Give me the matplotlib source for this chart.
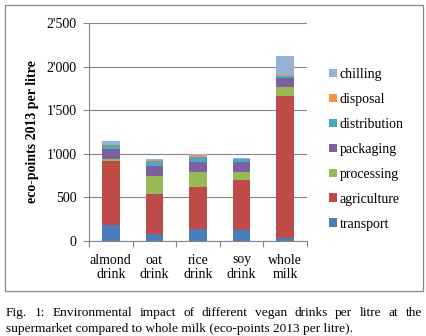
import matplotlib
matplotlib.use("Agg")
import matplotlib.pyplot as plt
import numpy as np
from matplotlib.patches import Rectangle
from matplotlib.ticker import FuncFormatter, FixedLocator

plt.rcParams["font.family"] = ["Liberation Serif", "DejaVu Serif"]

drinks = ["almond\ndrink", "oat\ndrink", "rice\ndrink", "soy\ndrink", "whole\nmilk"]

# eco-points 2013 per litre, per life-cycle stage
transport = [180, 85, 135, 125, 40]
agriculture = [740, 458, 488, 575, 1623]
processing = [25, 206, 172, 90, 107]
packaging = [115, 115, 111, 115, 96]
distribution = [45, 53, 61, 35, 30]
disposal = [12, 10, 15, 5, 10]
chilling = [28, 10, 12, 7, 220]

stages = [
    ("transport", transport, "#4a7ebb"),
    ("agriculture", agriculture, "#be4b48"),
    ("processing", processing, "#98b954"),
    ("packaging", packaging, "#7d60a0"),
    ("distribution", distribution, "#46aac5"),
    ("disposal", disposal, "#f69240"),
    ("chilling", chilling, "#95b3d7"),
]

fig = plt.figure(figsize=(4.26, 3.36), dpi=100)
ax = fig.add_axes([89 / 426, 1 - 241 / 336, 218 / 426, 218 / 336])

x = np.arange(len(drinks))
bottom = np.zeros(len(drinks))
handles = []
for name, vals, col in stages:
    b = ax.bar(x, vals, width=0.4, bottom=bottom, color=col, label=name,
               edgecolor="none", zorder=3)
    handles.append(b)
    bottom += np.array(vals)

ax.set_xlim(-0.5, len(drinks) - 0.5)
ax.set_ylim(0, 2500)
ax.set_yticks(np.arange(0, 2501, 500))
ax.yaxis.set_major_formatter(FuncFormatter(lambda v, p: f"{int(v):,}".replace(",", "'")))
ax.set_xticks(x)
ax.set_xticklabels(drinks, fontsize=10, linespacing=1.15)
ax.xaxis.set_minor_locator(FixedLocator(np.arange(-0.5, len(drinks), 1.0)))
ax.tick_params(axis="x", which="major", length=0, pad=9)
ax.tick_params(axis="x", which="minor", length=4, color="#868686", width=0.8)
ax.tick_params(axis="y", length=4, color="#868686", width=0.8, labelsize=10, pad=5)

ax.grid(axis="y", color="#868686", linewidth=0.8, zorder=0)
for s in ("top", "right"):
    ax.spines[s].set_visible(False)
for s in ("left", "bottom"):
    ax.spines[s].set_color("#868686")
    ax.spines[s].set_linewidth(0.8)

ax.set_ylabel("eco-points 2013 per litre", fontsize=10, fontweight="bold", labelpad=5)

ax.legend(handles[::-1], [h.get_label() for h in handles[::-1]],
          loc="center left", bbox_to_anchor=(0.772, 0.556),
          bbox_transform=fig.transFigure, frameon=False, fontsize=10,
          handlelength=0.55, handleheight=0.55, handletextpad=0.25,
          labelspacing=0.86, borderpad=0, borderaxespad=0)

# chart frame
fig.patches.append(Rectangle((5 / 426, 1 - 291 / 336), 418 / 426, 286 / 336,
                             transform=fig.transFigure, fill=False,
                             edgecolor="#868686", linewidth=0.9))

# caption, first line justified to the frame width
line1 = "Fig. 1: Environmental impact of different vegan drinks per litre at the"
line2 = "supermarket compared to whole milk (eco-points 2013 per litre)."
cap_size = 9.6
left_px, right_px = 6, 422
renderer = fig.canvas.get_renderer()
words = line1.split(" ")
widths = []
for w in words:
    t = fig.text(0, 0, w, fontsize=cap_size)
    widths.append(t.get_window_extent(renderer).width)
    t.remove()
gap = (right_px - left_px - sum(widths)) / (len(words) - 1)
xpos = left_px
for w, wd in zip(words, widths):
    fig.text(xpos / 426, 1 - 313 / 336, w, fontsize=cap_size, va="center")
    xpos += wd + gap
fig.text(left_px / 426, 1 - 329 / 336, line2, fontsize=cap_size, va="center")

fig.savefig("out.png", dpi=100)
